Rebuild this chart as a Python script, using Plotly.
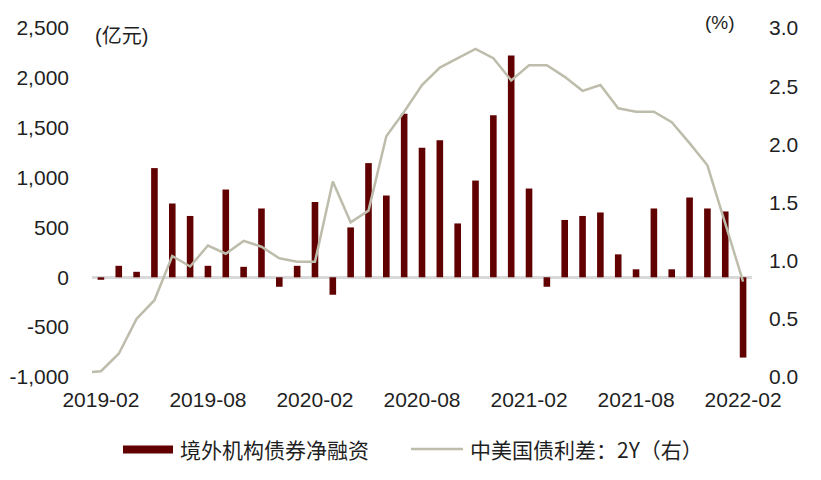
import plotly.graph_objects as go

# ---- data ----
bar_months = [f"{y}-{m:02d}" for y in (2019, 2020, 2021, 2022) for m in range(1, 13)]
bar_months = bar_months[bar_months.index("2019-02"):bar_months.index("2022-02") + 1]

bond_financing = [-25, 115, 55, 1095, 740, 615, 115, 880, 105, 690, -95, 115,
                  755, -175, 500, 1145, 820, 1640, 1300, 1375, 540, 970, 1625, 2225,
                  890, -95, 575, 615, 650, 230, 80, 690, 80, 800, 690, 660, -805]

line_months = ["2019-01"] + bar_months
spread_2y = [0.035, 0.05, 0.20, 0.50, 0.66, 1.04, 0.95, 1.13, 1.06, 1.17, 1.12, 1.02,
             0.99, 0.99, 1.68, 1.33, 1.43, 2.07, 2.28, 2.51, 2.66, 2.74, 2.82, 2.74,
             2.55, 2.68, 2.68, 2.58, 2.46, 2.51, 2.31, 2.28, 2.28, 2.19, 2.01, 1.82,
             1.33, 0.82]

x_tick_labels = ["2019-02", "2019-08", "2020-02", "2020-08", "2021-02", "2021-08", "2022-02"]
left_ticks = [-1000, -500, 0, 500, 1000, 1500, 2000, 2500]
left_tick_text = ["-1,000", "-500", "0", "500", "1,000", "1,500", "2,000", "2,500"]
right_ticks = [0, 0.5, 1.0, 1.5, 2.0, 2.5, 3.0]

bar_name = "境外机构债券净融资"
line_name = "中美国债利差：2Y（右）"

# ---- positions on a monthly index axis ----
base = bar_months[0]
def month_index(s):
    y, m = map(int, s.split("-"))
    by, bm = map(int, base.split("-"))
    return (y - by) * 12 + (m - bm)

bar_x = [month_index(m) for m in bar_months]
line_x = [month_index(m) for m in line_months]
tick_x = [month_index(m) for m in x_tick_labels]

BAR_COLOR = "#600000"
LINE_COLOR = "#bebdac"
TXT = "#1f1f1f"
LATIN = "Liberation Sans, Arial, Noto Sans CJK SC"
CJK = "Noto Sans CJK SC, Liberation Sans"

fig = go.Figure()
fig.add_trace(go.Bar(x=bar_x, y=bond_financing, name=bar_name, marker_color=BAR_COLOR,
                     marker_line_width=0, width=0.37, yaxis="y"))
fig.add_trace(go.Scatter(x=line_x, y=spread_2y, name=line_name, mode="lines",
                         line=dict(color=LINE_COLOR, width=2.5), yaxis="y2"))

L, R, T, B = 92, 69, 28, 103
W, H = 821, 480
pw, ph = W - L - R, H - T - B

def px(xp):
    return (xp - L) / pw

def py(yp):
    return (H - B - yp) / ph

TF = 21
fig.update_layout(
    width=W, height=H, margin=dict(l=L, r=R, t=T, b=B, pad=0, autoexpand=False),
    paper_bgcolor="white", plot_bgcolor="white", showlegend=False,
    font=dict(family=LATIN, size=TF, color=TXT),
    xaxis=dict(range=[-0.5, len(bar_months) - 0.5], tickmode="array", tickvals=tick_x,
               ticktext=x_tick_labels, showgrid=False, zeroline=False, showline=False,
               ticks="", ticklabelstandoff=8, automargin=False,
               tickfont=dict(size=TF, family=LATIN)),
    yaxis=dict(range=[-1000, 2500], tickmode="array", tickvals=left_ticks,
               ticktext=left_tick_text, showgrid=False, zeroline=True,
               zerolinecolor="#d9d9d9", zerolinewidth=2.5, showline=False, ticks="",
               ticklabelstandoff=22, automargin=False,
               tickfont=dict(size=TF, family=LATIN)),
    yaxis2=dict(range=[0, 3], overlaying="y", side="right", tickmode="array",
                tickvals=right_ticks, ticktext=[f"{v:.1f}" for v in right_ticks],
                showgrid=False, zeroline=False, showline=False, ticks="",
                ticklabelstandoff=16, automargin=False,
                tickfont=dict(size=TF, family=LATIN)),
)

annotations = [
    dict(text="(亿元)", x=px(93), y=py(36), xref="paper", yref="paper",
         xanchor="left", yanchor="middle", showarrow=False,
         font=dict(size=20, family=LATIN, color=TXT)),
    dict(text="(%)", x=px(703), y=py(22), xref="paper", yref="paper",
         xanchor="left", yanchor="middle", showarrow=False,
         font=dict(size=19, family=LATIN, color=TXT)),
    dict(text=bar_name, x=px(178), y=py(449), xref="paper", yref="paper",
         xanchor="left", yanchor="middle", showarrow=False,
         font=dict(size=21, family=CJK, color=TXT)),
    dict(text=line_name, x=px(468), y=py(449), xref="paper", yref="paper",
         xanchor="left", yanchor="middle", showarrow=False,
         font=dict(size=21, family=CJK, color=TXT)),
]
shapes = [
    dict(type="rect", xref="paper", yref="paper", x0=px(123), x1=px(173),
         y0=py(453.5), y1=py(445.5), fillcolor=BAR_COLOR, line_width=0),
    dict(type="line", xref="paper", yref="paper", x0=px(411), x1=px(463),
         y0=py(449), y1=py(449), line=dict(color=LINE_COLOR, width=2.5)),
]
fig.update_layout(annotations=annotations, shapes=shapes)

fig.write_html("out.html", config={"displayModeBar": False},
               post_script="document.body.style.margin='0';")
